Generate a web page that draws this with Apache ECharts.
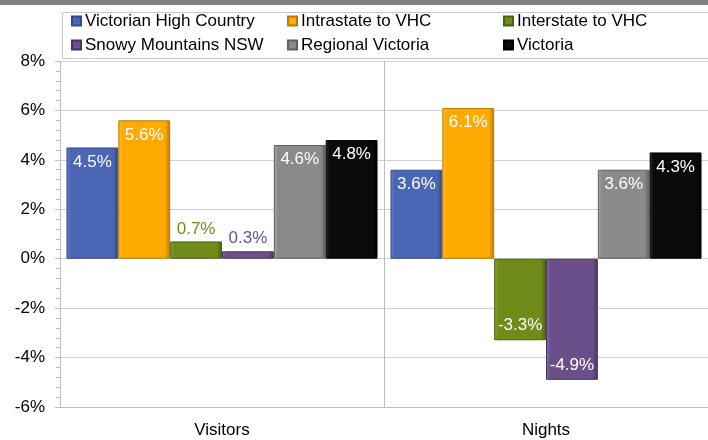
<!DOCTYPE html>
<html><head><meta charset="utf-8">
<script src="https://cdn.jsdelivr.net/npm/echarts@6/dist/echarts.min.js"></script>
<style>html,body{margin:0;padding:0;background:#fff}#c{width:708px;height:440px}</style>
</head><body><div id="c"></div>
<script>
var categories = ['Visitors', 'Nights'];
var seriesNames = ['Victorian High Country', 'Intrastate to VHC', 'Interstate to VHC', 'Snowy Mountains NSW', 'Regional Victoria', 'Victoria'];
var vhc = [4.5, 3.6];
var intrastate = [5.6, 6.1];
var interstate = [0.7, -3.3];
var snowy = [0.3, -4.9];
var regional = [4.6, 3.6];
var victoria = [4.8, 4.3];
var yTicks = [-6, -4, -2, 0, 2, 4, 6, 8];

var values = [vhc, intrastate, interstate, snowy, regional, victoria];
var colors = ['#4a66b4', '#ffaa00', '#6f8c1a', '#69508a', '#8a8a8a', '#0a0a0a'];
var darks = ['#33488a', '#b87a00', '#4b6010', '#45345e', '#5e5e5e', '#000000'];
var lights = ['#6a84cc', '#ffc040', '#8aa832', '#8470a4', '#a8a8a8', '#2a2a2a'];
var FONT = 'Liberation Sans, Arial, sans-serif';

function grad(i){
  return new echarts.graphic.LinearGradient(0,0,1,0,[
    {offset:0,color:lights[i]},{offset:0.08,color:colors[i]},
    {offset:0.9,color:colors[i]},{offset:1,color:darks[i]}]);
}

var series = seriesNames.map(function(n,i){
  return {
    name:n, type:'bar', barGap:'0%', barCategoryGap:'4%',
    itemStyle:{color:grad(i), borderColor:darks[i], borderWidth:1},
    data: values[i].map(function(v){
      var lab;
      if (v >= 1) lab = {show:true, position:'insideTop', distance:6, color:'#fff'};
      else if (v <= -1) lab = {show:true, position:'insideBottom', distance:6, color:'#fff'};
      else lab = {show:true, position:'top', distance:4, color:colors[i]};
      lab.fontSize = 17; lab.fontFamily = FONT;
      lab.formatter = function(p){return p.value.toFixed(1)+'%';};
      return {value:v, label:lab};
    })
  };
});

var legendPos = [[71,12],[287,12],[503,12],[71,36],[287,36],[503,36]];
var legends = seriesNames.map(function(n,i){
  return {data:[n], left:legendPos[i][0], top:legendPos[i][1], itemWidth:9, itemHeight:9, itemGap:0, padding:0,
    icon:'rect', textStyle:{fontSize:17, lineHeight:18, fontFamily:FONT, color:'#000', padding:[0,0,0,-1]}};
});

var chart = echarts.init(document.getElementById('c'), null, {renderer:'canvas'});
chart.setOption({
  animation:false,
  color: colors,
  legend: legends,
  graphic:[
    {type:'rect', left:0, top:0, shape:{width:708, height:5}, style:{fill:'#7f7f7f'}},
    {type:'rect', left:60, top:10, shape:{width:680, height:46}, style:{fill:'none', stroke:'#c8c8c8', lineWidth:1}, z:-1}
  ],
  grid:{left:60, top:61, width:650, height:346, containLabel:false},
  xAxis:{type:'category', data:categories,
    axisLine:{show:true, onZero:false, lineStyle:{color:'#bdbdbd'}},
    axisTick:{show:false},
    splitLine:{show:true, lineStyle:{color:'#bdbdbd'}},
    axisLabel:{fontSize:17, fontFamily:FONT, color:'#000', margin:15}},
  yAxis:{type:'value', min:-6, max:8, interval:2,
    axisLine:{show:true, lineStyle:{color:'#bdbdbd'}},
    axisTick:{show:true, inside:false, length:5, lineStyle:{color:'#bdbdbd'}},
    minorTick:{show:true, splitNumber:5, length:4, lineStyle:{color:'#bdbdbd'}},
    splitLine:{show:true, lineStyle:{color:'#d0d0d0'}},
    axisLabel:{fontSize:17, fontFamily:FONT, color:'#000', margin:15,
      formatter:function(v){return yTicks.indexOf(v)>=0 ? v+'%' : '';}}},
  series: series
});
</script></body></html>
